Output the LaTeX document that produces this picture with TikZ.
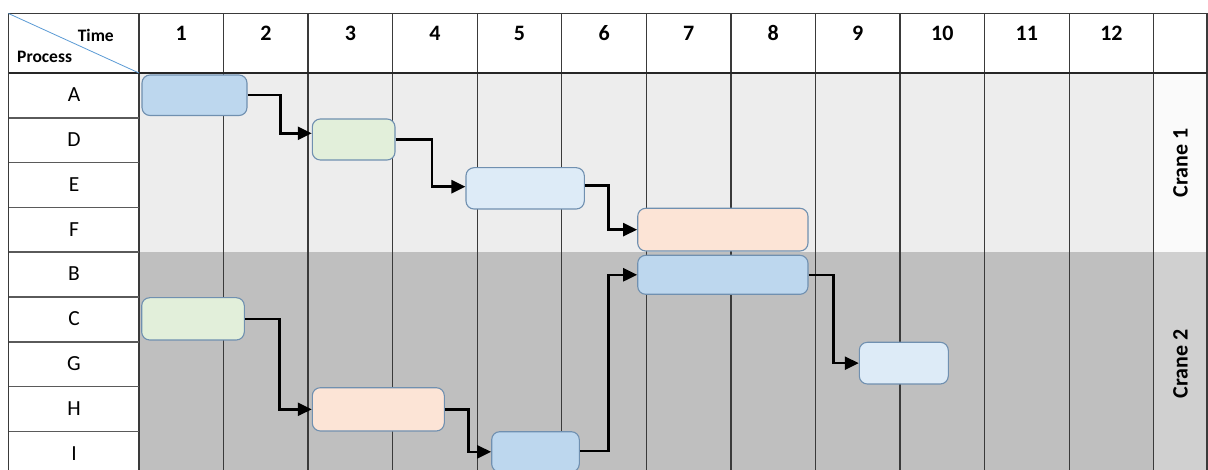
\documentclass[tikz,border=0pt]{standalone}
\usepackage{fontspec}
\setmainfont{Carlito}
\usetikzlibrary{arrows.meta}
\definecolor{cOneBg}{HTML}{EDEDED}
\definecolor{cTwoBg}{HTML}{BFBFBF}
\definecolor{cOneLab}{HTML}{FAFAFA}
\definecolor{cTwoLab}{HTML}{D0D0D0}
\definecolor{gridc}{HTML}{3A3A3A}
\definecolor{rowc}{HTML}{5A5A5A}
\definecolor{barline}{HTML}{7090B0}
\definecolor{fBlue}{HTML}{BDD7EE}
\definecolor{fLightBlue}{HTML}{DDEBF7}
\definecolor{fGreen}{HTML}{E2EFDA}
\definecolor{fPeach}{HTML}{FCE4D6}
\definecolor{diagc}{HTML}{5B9BD5}
\tikzset{
  gridline/.style={draw=gridc, line width=1.3pt},
  rowline/.style={draw=rowc, line width=1.6pt},
  headline/.style={draw=black!85, line width=2pt},
  bar/.style={draw=barline, line width=1.1pt, rounded corners=8pt, inner sep=0pt},
  flow/.style={draw=black, line width=2.5pt, -{Triangle[length=14pt,width=13pt]}},
  hdrnum/.style={font=\fontsize{22}{26}\selectfont\bfseries, inner sep=0pt},
  hdrsmall/.style={font=\fontsize{17.5}{21}\selectfont\bfseries, inner sep=0pt},
  rowlab/.style={font=\fontsize{21.5}{25}\selectfont, inner sep=0pt},
  cranelab/.style={font=\fontsize{22}{26}\selectfont\bfseries, inner sep=0pt, rotate=90}
}
\begin{document}
\begin{tikzpicture}[x=1pt,y=-1pt]
\useasboundingbox (0,0) rectangle (1208,470);
\clip (0,0) rectangle (1208,470);
% backgrounds
\fill[white] (0,0) rectangle (1208,470);
\fill[cOneBg] (139,73) rectangle (1153.7,252.2);
\fill[cTwoBg] (139,252.2) rectangle (1153.7,480);
\fill[cOneLab] (1153.7,73) rectangle (1207,252.2);
\fill[cTwoLab] (1153.7,252.2) rectangle (1207,480);
% grid
\foreach \i in {0,...,12} \draw[gridline] ({139+84.56*\i},13.5) -- ({139+84.56*\i},480);
\foreach \j in {1,...,8} \draw[rowline] (8.5,{73+44.8*\j}) -- (139,{73+44.8*\j});
\draw[gridline] (8.5,480) -- (8.5,13.5) -- (1207,13.5) -- (1207,480);
\draw[headline] (8.5,73) -- (1207,73);
\draw[diagc, line width=0.8pt] (8.5,13.5) -- (139,73);
% header texts
\node[hdrsmall, anchor=east] (time) at (114,35) {Time};
\node[hdrsmall, anchor=west] (proc) at (17,57) {Process};
\foreach \i in {1,...,12} \node[hdrnum] (h\i) at ({139+84.56*\i-42.28},33) {\i};
% row labels
\foreach \l [count=\j] in {A,D,E,F,B,C,G,H,I} \node[rowlab] (r\l) at (74,{73+44.8*\j-23}) {\l};
% crane labels
\node[cranelab] (k1) at (1180.5,162.6) {Crane 1};
\node[cranelab] (k2) at (1180.5,364) {Crane 2};
% bars
\node[bar, fill=fBlue, minimum width=105pt, minimum height=40.5pt] (A) at (194.5,95.25) {};
\node[bar, fill=fGreen, minimum width=82.7pt, minimum height=41pt] (D) at (353.65,139.5) {};
\node[bar, fill=fLightBlue, minimum width=118.3pt, minimum height=41.3pt] (E) at (525.15,188.35) {};
\node[bar, fill=fPeach, minimum width=170.3pt, minimum height=42.7pt] (F) at (722.85,229.65) {};
\node[bar, fill=fBlue, minimum width=170.3pt, minimum height=39pt] (B) at (722.85,274.8) {};
\node[bar, fill=fGreen, minimum width=102.6pt, minimum height=42.3pt] (C) at (193,318.85) {};
\node[bar, fill=fLightBlue, minimum width=89pt, minimum height=41.7pt] (G) at (903.8,363.15) {};
\node[bar, fill=fPeach, minimum width=132pt, minimum height=43.3pt] (H) at (378.3,409.35) {};
\node[bar, fill=fBlue, minimum width=87.6pt, minimum height=40.3pt] (I) at (535.5,451.85) {};
% connectors
\draw[flow] (A.east) -- ++(33,0) |- ([yshift=6.2pt]D.west);
\draw[flow] (D.east) -- ++(36.3,0) |- ([yshift=1.65pt]E.west);
\draw[flow] ([yshift=2.65pt]E.east) -- ++(23.7,0) |- (F.west);
\draw[flow] (C.east) -- ++(34.7,0) |- (H.west);
\draw[flow] (H.east) -- ++(23.7,0) |- (I.west);
\draw[flow] ([yshift=0.85pt]I.east) -- ++(28.7,0) |- (B.west);
\draw[flow] (B.east) -- ++(25,0) |- (G.west);
\end{tikzpicture}
\end{document}
